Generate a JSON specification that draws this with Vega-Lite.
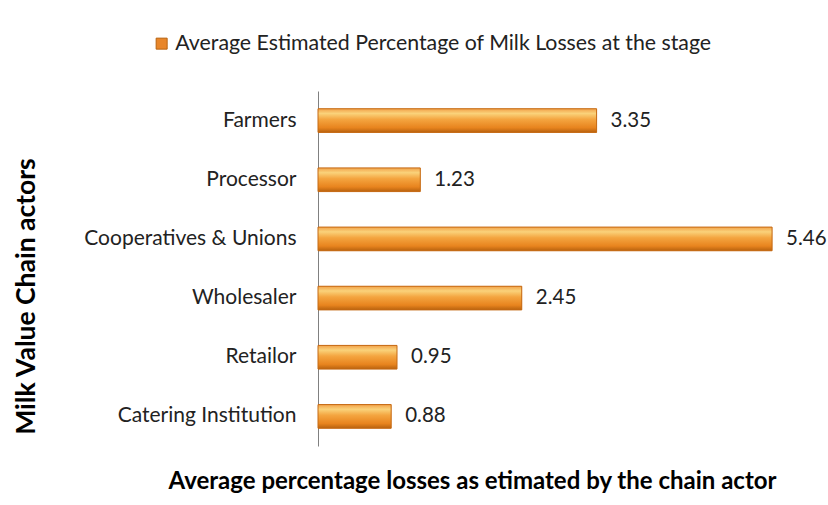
{
  "$schema": "https://vega.github.io/schema/vega-lite/v6.json",
  "width": 499,
  "height": 355,
  "autosize": {"type": "none"},
  "padding": {"left": 318, "top": 91, "right": 11, "bottom": 59},
  "background": "white",
  "config": {
    "view": {"stroke": null},
    "font": "Lato"
  },
  "data": {
    "values": [
      {"actor": "Farmers", "loss": 3.35, "series": "Average Estimated Percentage of Milk Losses at the stage"},
      {"actor": "Processor", "loss": 1.23, "series": "Average Estimated Percentage of Milk Losses at the stage"},
      {"actor": "Cooperatives & Unions", "loss": 5.46, "series": "Average Estimated Percentage of Milk Losses at the stage"},
      {"actor": "Wholesaler", "loss": 2.45, "series": "Average Estimated Percentage of Milk Losses at the stage"},
      {"actor": "Retailor", "loss": 0.95, "series": "Average Estimated Percentage of Milk Losses at the stage"},
      {"actor": "Catering Institution", "loss": 0.88, "series": "Average Estimated Percentage of Milk Losses at the stage"}
    ]
  },
  "encoding": {
    "y": {
      "field": "actor",
      "type": "nominal",
      "sort": null,
      "scale": {"paddingInner": 0.6, "paddingOuter": 0.3},
      "axis": {
        "title": "Milk Value Chain actors",
        "titleFont": "Lato",
        "titleFontSize": 26.5,
        "titleFontWeight": "bold",
        "titleColor": "#000000",
        "titleX": -292,
        "titleY": 205,
        "titleAlign": "center",
        "titleBaseline": "middle",
        "labelFont": "Lato",
        "labelFontSize": 21,
        "labelColor": "#222222",
        "labelPadding": 22,
        "labelLimit": 300,
        "ticks": false,
        "domainColor": "#808080",
        "domainWidth": 1
      }
    },
    "x": {
      "field": "loss",
      "type": "quantitative",
      "scale": {"domain": [0, 6], "nice": false},
      "axis": {
        "title": "Average percentage losses as etimated by the  chain actor",
        "titleFont": "Lato",
        "titleFontSize": 24,
        "titleFontWeight": "bold",
        "titleColor": "#000000",
        "titleX": 154,
        "titleY": 42,
        "titleAlign": "center",
        "titleBaseline": "alphabetic",
        "labels": false,
        "ticks": false,
        "domain": false,
        "grid": false
      }
    }
  },
  "layer": [
    {
      "mark": {"type": "bar"},
      "encoding": {
        "color": {
          "field": "series",
          "type": "nominal",
          "scale": {"range": ["#E8862A"]},
          "legend": {
            "title": null,
            "orient": "none",
            "legendX": -167,
            "legendY": -58,
            "symbolType": "square",
            "symbolSize": 121,
            "symbolStrokeColor": "#B8620E",
            "symbolStrokeWidth": 1,
            "labelFont": "Lato",
            "labelFontSize": 21.3,
            "labelColor": "#222222",
            "labelLimit": 700,
            "labelOffset": 3
          }
        }
      }
    },
    {
      "mark": {
        "type": "bar",
        "stroke": "#C56A14",
        "strokeWidth": 1,
        "fill": {
          "gradient": "linear",
          "x1": 0, "y1": 0, "x2": 0, "y2": 1,
          "stops": [
            {"offset": 0, "color": "#F2A24A"},
            {"offset": 0.2, "color": "#FAD27A"},
            {"offset": 0.45, "color": "#F4A540"},
            {"offset": 0.8, "color": "#E8841E"},
            {"offset": 1, "color": "#B8620E"}
          ]
        }
      }
    },
    {
      "mark": {"type": "text", "align": "left", "baseline": "middle", "dx": 14, "font": "Lato", "fontSize": 20.5, "color": "#222222"},
      "encoding": {
        "text": {"field": "loss", "type": "quantitative", "format": ".2f"}
      }
    }
  ]
}
